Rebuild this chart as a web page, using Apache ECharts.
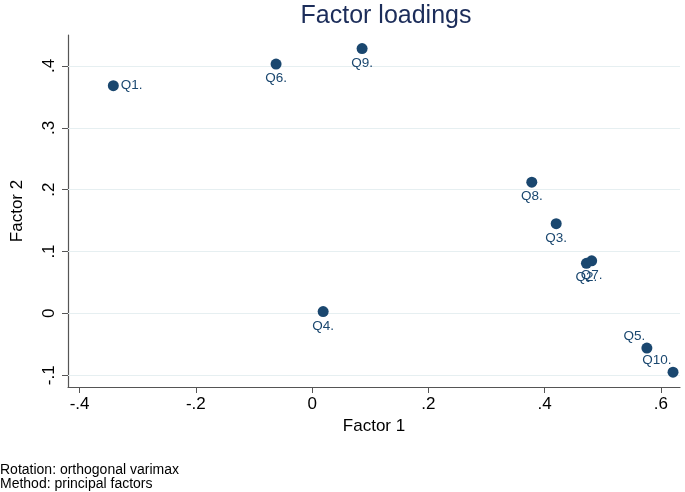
<!DOCTYPE html>
<html>
<head>
<meta charset="utf-8">
<script src="https://cdn.jsdelivr.net/npm/echarts@6/dist/echarts.min.js"></script>
<style>html,body{margin:0;padding:0;background:#fff;}#c{width:685px;height:492px;}</style>
</head>
<body>
<div id="c"></div>
<script>
const labels = ['Q1.','Q2.','Q3.','Q4.','Q5.','Q6.','Q7.','Q8.','Q9.','Q10.'];
const factor1 = [-0.342, 0.472, 0.420, 0.019, 0.576, -0.062, 0.481, 0.378, 0.086, 0.621];
const factor2 = [0.368, 0.081, 0.145, 0.003, -0.056, 0.403, 0.085, 0.212, 0.428, -0.095];
const xTicks = [-0.4, -0.2, 0, 0.2, 0.4, 0.6];
const yTicks = [-0.1, 0, 0.1, 0.2, 0.3, 0.4];

const navy = '#1a476f';
const font = '"Liberation Sans", Arial, Helvetica, sans-serif';
function fmt(v){ if (Math.abs(v) < 1e-9) return '0'; let s = (+v.toFixed(2)).toString(); return s.replace('0.', '.'); }
const posMap = {'Q1.':'right','Q5.':'upleft','Q10.':'upleft'};

const data = labels.map((n,i)=>{
  const p = posMap[n] || 'bottom';
  const lab = {show:true, formatter:n};
  if (p === 'right') { lab.position = 'right'; lab.distance = 2; }
  else if (p === 'upleft') { lab.position = 'left'; lab.offset = [4,-12]; lab.distance = 0; }
  else { lab.position = 'bottom'; lab.distance = 2; }
  return {value:[factor1[i], factor2[i]], name:n, label:lab};
});

const chart = echarts.init(document.getElementById('c'), null, {renderer:'canvas'});
chart.setOption({
  backgroundColor:'#fff',
  animation:false,
  title:{text:'Factor loadings', left:381, textAlign:'center', top:-1,
    textStyle:{fontFamily:font, fontSize:25, fontWeight:'normal', color:'#1c2d5a'}},
  graphic:[
    {type:'text', left:0, top:463, style:{text:'Rotation: orthogonal varimax', font:'14px '+font, fill:'#000'}},
    {type:'text', left:0, top:477, style:{text:'Method: principal factors', font:'14px '+font, fill:'#000'}}
  ],
  grid:{left:68, right:5, top:35, bottom:105, containLabel:false},
  xAxis:{type:'value', min:-0.42, max:0.633,
    name:'Factor 1', nameLocation:'middle', nameGap:31,
    nameTextStyle:{fontFamily:font, fontSize:17, color:'#000'},
    axisLine:{show:true, onZero:false, lineStyle:{color:'#555', width:1.2}},
    axisTick:{show:true, length:6, customValues:xTicks, lineStyle:{color:'#555'}},
    axisLabel:{customValues:xTicks, formatter:fmt, margin:9, fontFamily:font, fontSize:17, color:'#000'},
    splitLine:{show:false}},
  yAxis:{type:'value', min:-0.119, max:0.45,
    name:'Factor 2', nameLocation:'middle', nameGap:42, nameRotate:90,
    nameTextStyle:{fontFamily:font, fontSize:17, color:'#000'},
    axisLine:{show:true, onZero:false, lineStyle:{color:'#555', width:1.2}},
    axisTick:{show:true, length:6, customValues:yTicks, lineStyle:{color:'#555'}},
    axisLabel:{customValues:yTicks, formatter:fmt, rotate:90, margin:10, fontFamily:font, fontSize:17, color:'#000', align:'center', verticalAlign:'bottom'},
    splitLine:{show:false}},
  series:[
    {type:'line', data:[], markLine:{silent:true, symbol:'none', label:{show:false},
      lineStyle:{color:'#e6eff1', type:'solid', width:1.2},
      data: yTicks.map(v=>({yAxis:v}))}},
    {type:'scatter', symbolSize:11, itemStyle:{color:navy, opacity:1},
      label:{fontFamily:font, fontSize:13.5, color:navy},
      data:data, z:5}
  ]
});
</script>
</body>
</html>
